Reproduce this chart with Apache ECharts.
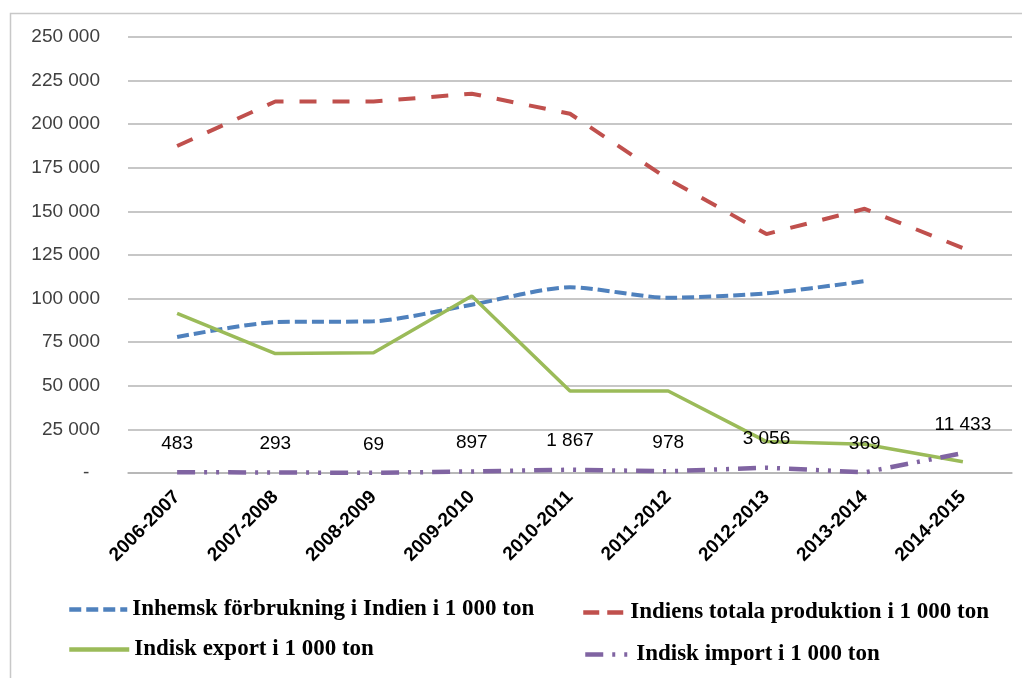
<!DOCTYPE html>
<html>
<head>
<meta charset="utf-8">
<script src="https://cdn.jsdelivr.net/npm/echarts@6/dist/echarts.min.js"></script>
<style>
html,body{margin:0;padding:0;background:#fff;}
#chart{width:1022px;height:678px;}
</style>
</head>
<body>
<div id="chart"></div>
<script>
var categories = ['2006-2007','2007-2008','2008-2009','2009-2010','2010-2011','2011-2012','2012-2013','2013-2014','2014-2015'];
var consumption = [78000, 86500, 87000, 96500, 106500, 100500, 103000, 110000, null];
var production = [187500, 213000, 213000, 217500, 206000, 168500, 137000, 151500, 129000];
var exportData = [91500, 68500, 69000, 101500, 47000, 47000, 18000, 16500, 6500];
var importData = [483, 293, 69, 897, 1867, 978, 3056, 369, 11433];
var yTicks = {min: 0, max: 250000, interval: 25000};
var names = ['Inhemsk förbrukning i Indien i 1 000 ton','Indiens totala produktion i 1 000 ton','Indisk export i 1 000 ton','Indisk import i 1 000 ton'];

function fmt(v){
  if (v === 0) return '-  ';
  var s = String(Math.round(v));
  return s.replace(/\B(?=(\d{3})+(?!\d))/g, ' ');
}

var chart = echarts.init(document.getElementById('chart'));
var legendText = {fontFamily:'Liberation Serif', fontWeight:'bold', fontSize:23, color:'#000'};
chart.setOption({
  backgroundColor:'#fff',
  animation:false,
  graphic:[{
    type:'polyline',
    shape:{points:[[10.5,678],[10.5,13.5],[1022,13.5]]},
    style:{stroke:'#c8c8c8', lineWidth:1.5, fill:null}
  }],
  grid:{left:128, right:10, top:37, bottom:205, containLabel:false},
  xAxis:{
    type:'category', data:categories, boundaryGap:true,
    axisLine:{show:true, lineStyle:{color:'#b4b4b4', width:1.5}},
    axisTick:{show:false},
    axisLabel:{rotate:45, margin:21, fontFamily:'Liberation Sans', fontWeight:'bold', fontSize:19, color:'#000', interval:0}
  },
  yAxis:{
    type:'value', min:yTicks.min, max:yTicks.max, interval:yTicks.interval,
    axisLine:{show:false}, axisTick:{show:false},
    splitLine:{lineStyle:{color:'#b4b4b4', width:1.5}},
    axisLabel:{margin:28, fontFamily:'Liberation Sans', fontSize:19, color:'#404040', formatter:fmt}
  },
  legend:[
    {data:[names[0]], left:62, top:593, itemWidth:58, itemHeight:1, itemStyle:{opacity:0}, lineStyle:{width:4.5}, textStyle:legendText},
    {data:[names[1]], left:576, top:596, itemWidth:42, itemHeight:1, itemStyle:{opacity:0}, lineStyle:{width:4.5, type:[16,8]}, textStyle:legendText},
    {data:[names[2]], left:62, top:633, itemWidth:60, itemHeight:1, itemStyle:{opacity:0}, lineStyle:{width:4.5}, textStyle:legendText},
    {data:[names[3]], left:578, top:638, itemWidth:46, itemHeight:1, itemStyle:{opacity:0}, lineStyle:{width:4.5}, textStyle:legendText}
  ],
  series:[
    {name:names[0], type:'line', data:consumption, symbol:'none', smooth:0.25,
     lineStyle:{color:'#4F81BD', width:4, type:[12,5]}, itemStyle:{color:'#4F81BD'}},
    {name:names[1], type:'line', data:production, symbol:'none',
     lineStyle:{color:'#C0504D', width:4, type:[17,16]}, itemStyle:{color:'#C0504D'}},
    {name:names[2], type:'line', data:exportData, symbol:'none',
     lineStyle:{color:'#9BBB59', width:3.5, type:'solid'}, itemStyle:{color:'#9BBB59'}},
    {name:names[3], type:'line', data:importData, symbol:'circle', symbolSize:0.1,
     lineStyle:{color:'#8064A2', width:4.5, type:[18,9,3,9,3,9]}, itemStyle:{color:'#8064A2'},
     label:{show:true, position:'top', distance:19, fontFamily:'Liberation Sans', fontSize:19, color:'#000', formatter:function(p){return fmt(p.value);}}}
  ]
});
</script>
</body>
</html>
